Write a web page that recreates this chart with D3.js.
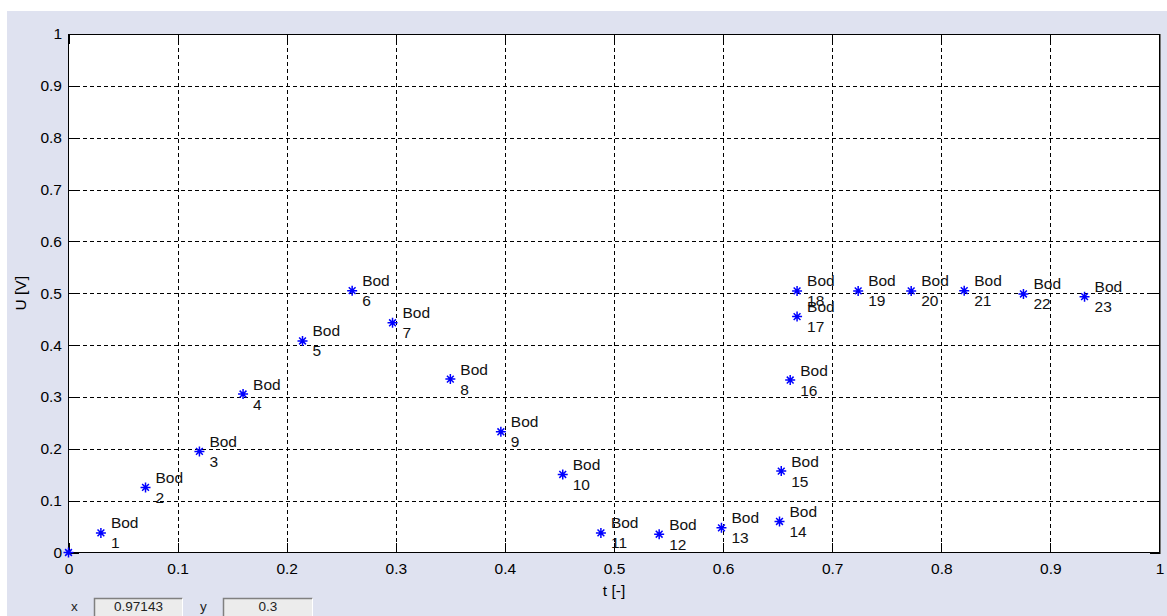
<!DOCTYPE html>
<html>
<head>
<meta charset="utf-8">
<script src="https://cdn.jsdelivr.net/npm/d3@7/dist/d3.min.js"></script>
<style>
  html, body { margin: 0; padding: 0; background: #ffffff; }
  svg { display: block; }
  text { font-family: "Liberation Sans", Arial, sans-serif; }
</style>
</head>
<body>
<svg id="chart" width="1167" height="616"></svg>
<script>
// Measured points: time t [-] and voltage U [V]
const tValues = [0, 0.0297, 0.0706, 0.120, 0.160, 0.2145, 0.260, 0.297, 0.350, 0.3963, 0.453,
                 0.488, 0.5414, 0.5985, 0.6517, 0.6533, 0.6615, 0.6678, 0.6678, 0.7238, 0.7724,
                 0.821, 0.8753, 0.9313];
const uValues = [0, 0.0378, 0.1255, 0.195, 0.3056, 0.408, 0.505, 0.443, 0.3345, 0.2328, 0.1505,
                 0.0378, 0.0353, 0.0475, 0.0598, 0.157, 0.3326, 0.455, 0.5045, 0.5045, 0.5045,
                 0.505, 0.4986, 0.4934];
// Point annotations (first point is not annotated)
const pointNames = ["", "1", "2", "3", "4", "5", "6", "7", "8", "9", "10", "11", "12", "13",
                    "14", "15", "16", "17", "18", "19", "20", "21", "22", "23"];
const labelPrefix = "Bod";

const tickValues = [0, 0.1, 0.2, 0.3, 0.4, 0.5, 0.6, 0.7, 0.8, 0.9, 1];
const xTitle = "t [-]";
const yTitle = "U [V]";
const cursorX = "0.97143";
const cursorY = "0.3";

(function () {
const svg = d3.select("#chart");

// figure background
svg.append("rect").attr("x", 7).attr("y", 11).attr("width", 1160).attr("height", 605)
  .attr("fill", "#dfe2f0");

const pLeft = 68.5, pRight = 1159.5, pTop = 34, pBottom = 552.5;
const x = d3.scaleLinear().domain([0, 1]).range([pLeft, pRight]);
const y = d3.scaleLinear().domain([0, 1]).range([pBottom, pTop]);

// plot area
svg.append("rect").attr("x", pLeft).attr("y", pTop)
  .attr("width", pRight - pLeft).attr("height", pBottom - pTop).attr("fill", "#ffffff");

// dotted grid
const inner = tickValues.filter(v => v > 0 && v < 1);
const grid = svg.append("g").attr("stroke", "#000").attr("stroke-width", 1)
  .attr("stroke-dasharray", "4,3").attr("shape-rendering", "crispEdges");
grid.selectAll(".gx").data(inner).join("line")
  .attr("x1", d => Math.round(x(d)) + 0.5).attr("x2", d => Math.round(x(d)) + 0.5)
  .attr("y1", pTop).attr("y2", pBottom);
grid.selectAll(".gy").data(inner).join("line")
  .attr("y1", d => Math.round(y(d)) + 0.5).attr("y2", d => Math.round(y(d)) + 0.5)
  .attr("x1", pLeft).attr("x2", pRight);

// axes with inward ticks
const fmt = d => d3.format("~g")(d);
function styleAxis(g) {
  g.select(".domain").remove();
  g.selectAll(".tick line").attr("stroke", "#000").attr("shape-rendering", "crispEdges");
  g.selectAll(".tick text").attr("fill", "#000").attr("font-size", "15.5px")
    .attr("font-family", "Liberation Sans, Arial, sans-serif");
}
svg.append("g").attr("transform", `translate(0,${pBottom})`)
  .call(d3.axisBottom(x).tickValues(tickValues).tickFormat(fmt).tickSizeInner(-10).tickSizeOuter(0).tickPadding(10))
  .call(styleAxis);
svg.append("g").attr("transform", `translate(${pLeft},0)`)
  .call(d3.axisLeft(y).tickValues(tickValues).tickFormat(fmt).tickSizeInner(-10).tickSizeOuter(0).tickPadding(6.5))
  .call(styleAxis);
svg.append("g").attr("transform", `translate(0,${pTop})`)
  .call(d3.axisTop(x).tickValues(tickValues).tickFormat("").tickSizeInner(-10).tickSizeOuter(0))
  .call(styleAxis);
svg.append("g").attr("transform", `translate(${pRight},0)`)
  .call(d3.axisRight(y).tickValues(tickValues).tickFormat("").tickSizeInner(-10).tickSizeOuter(0))
  .call(styleAxis);

// axes box
svg.append("rect").attr("x", pLeft).attr("y", pTop)
  .attr("width", pRight - pLeft).attr("height", pBottom - pTop)
  .attr("fill", "none").attr("stroke", "#000").attr("stroke-width", 1)
  .attr("shape-rendering", "crispEdges");
svg.append("line").attr("x1", pRight + 1).attr("x2", pRight + 1).attr("y1", pTop).attr("y2", pBottom + 1)
  .attr("stroke", "#777").attr("shape-rendering", "crispEdges");

// axis titles
svg.append("text").attr("x", (pLeft + pRight) / 2).attr("y", 596)
  .attr("text-anchor", "middle").attr("font-size", "15.5px").attr("fill", "#000").text(xTitle);
svg.append("text").attr("transform", `translate(26,${(pTop + pBottom) / 2}) rotate(-90)`)
  .attr("text-anchor", "middle").attr("font-size", "15.5px").attr("fill", "#000").text(yTitle);

// data points
const points = tValues.map((t, i) => ({ t, u: uValues[i], name: pointNames[i] }));
const star = "M-5,0H5M0,-5V5M-3.4,-3.4L3.4,3.4M-3.4,3.4L3.4,-3.4";
svg.append("g").selectAll("path").data(points).join("path")
  .attr("transform", d => `translate(${x(d.t)},${y(d.u)})`)
  .attr("d", star).attr("fill", "none").attr("stroke", "#0000ff").attr("stroke-width", 1.5);

// point annotations
const lab = svg.append("g").attr("font-size", "15.5px").attr("fill", "#111");
points.filter(d => d.name !== "").forEach(d => {
  const tx = lab.append("text").attr("x", x(d.t) + 10).attr("y", y(d.u) - 4.5);
  tx.append("tspan").attr("x", x(d.t) + 10).text(labelPrefix);
  tx.append("tspan").attr("x", x(d.t) + 10).attr("dy", 20).text(d.name);
});

// cursor readout fields
function field(label, lx, bx, bw, value) {
  svg.append("text").attr("x", lx).attr("y", 611).attr("font-size", "13.5px")
    .attr("fill", "#222").text(label);
  svg.append("rect").attr("x", bx).attr("y", 598).attr("width", bw).attr("height", 20)
    .attr("fill", "#ececec");
  svg.append("path").attr("d", `M${bx + 0.5},618V${598.5}H${bx + bw - 0.5}`)
    .attr("fill", "none").attr("stroke", "#808080").attr("stroke-width", 1.5);
  svg.append("path").attr("d", `M${bx + bw - 0.5},${598.5}V618`)
    .attr("fill", "none").attr("stroke", "#ffffff").attr("stroke-width", 1);
  svg.append("text").attr("x", bx + bw / 2).attr("y", 611).attr("text-anchor", "middle")
    .attr("font-size", "13.5px").attr("fill", "#222").text(value);
}
field("x", 71, 94, 89, cursorX);
field("y", 200, 223, 90, cursorY);
})();
</script>
</body>
</html>
